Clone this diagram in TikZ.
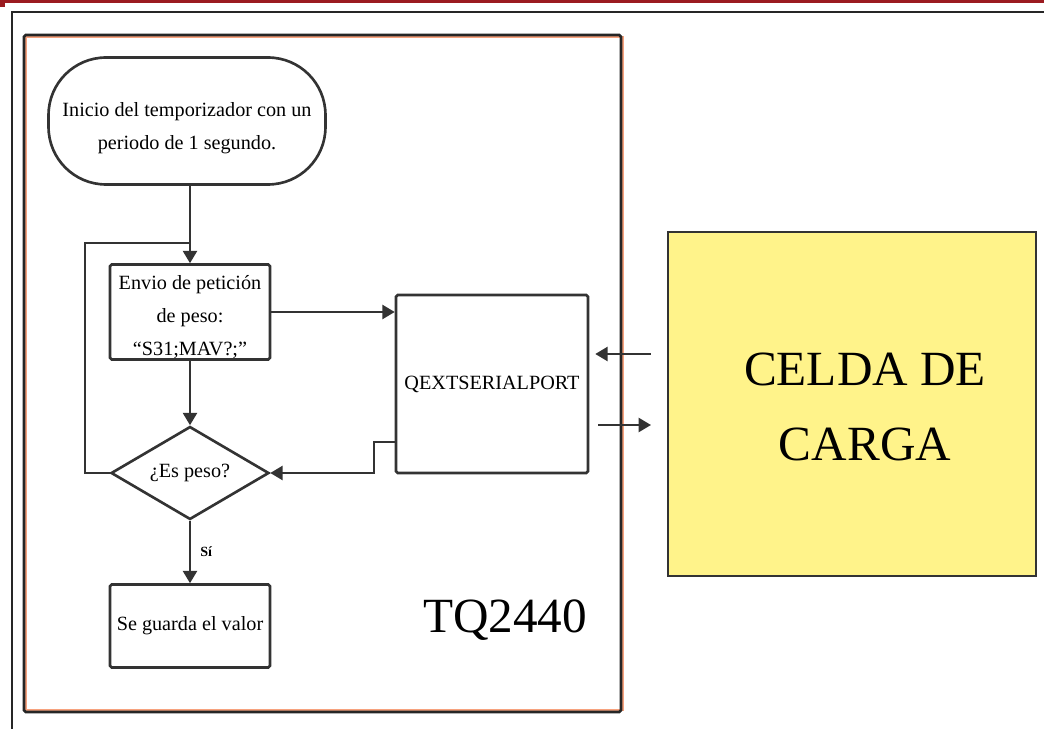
\documentclass[tikz,border=0pt]{standalone}
\usepackage{fontspec}
\setmainfont{Liberation Serif}
\usepackage{xcolor}
\usetikzlibrary{shapes,arrows.meta,positioning,calc}

\definecolor{bandred}{HTML}{9B1B20}
\definecolor{frameorange}{HTML}{F7A27E}
\definecolor{cellyellow}{HTML}{FFF38A}
\definecolor{linegray}{HTML}{333333}

\begin{document}
\begin{tikzpicture}[x=0.02cm,y=-0.02cm,
    line/.style={draw=linegray, line width=1.2pt},
    flow/.style={line, -{Triangle[length=7pt,width=8pt]}},
    block/.style={draw=linegray, line width=1.5pt, rectangle, rounded corners=1pt,
        align=center, inner sep=0pt, font=\fontsize{11.5}{18.8}\selectfont},
    terminal/.style={block, rounded corners=1.15cm, minimum width=5.54cm, minimum height=2.54cm, text height=35pt},
    decision/.style={block, diamond, rounded corners=0pt, aspect=1.7, minimum width=3.16cm, minimum height=1.86cm},
    cell/.style={draw=black!80, line width=1.2pt, fill=cellyellow, minimum width=7.36cm, minimum height=6.88cm},
    bigtext/.style={align=center, inner sep=0pt, font=\fontsize{28}{42.5}\selectfont}]
    \useasboundingbox (0,0) rectangle (1044,729);

    % Frames
    \fill[bandred] (0,0) rectangle (1044,3.5);
    \fill[bandred] (0,0) rectangle (5,7);
    \draw[black!85, line width=1.2pt] (1044,12) -- (12,12) -- (12,729);
    \draw[frameorange, line width=1.4pt] (26,37) rectangle (623,710);
    \draw[black!85, line width=1.5pt, rounded corners=1pt] (24,35) rectangle (621,712);

    % Flow chart
    \begin{scope}
        \node[terminal] (inicio) at (187,121) {Inicio del temporizador con un\\periodo de 1 segundo.};
        \node[block, minimum width=3.2cm, minimum height=1.9cm, text height=51pt] (envio) at (190,312) {Envio de petición\\de peso:\\“S31;MAV?;”};
        \node[decision] (espeso) at (190,473) {¿Es peso?};
        \node[block, minimum width=3.2cm, minimum height=1.66cm] (guarda) at (190,626) {Se guarda el valor};
        \node[block, minimum width=3.84cm, minimum height=3.56cm] (qext) at (492,384) {QEXTSERIALPORT};
        \node[bigtext] (tq) at (505,620) {TQ2440};
        \coordinate (loopcorner) at (85,243);

        \draw[flow] (inicio.south -| envio.north) -- (envio.north);
        \draw[flow] (envio.south) -- (espeso.north);
        \draw[line] (espeso.west) -| (loopcorner) -- (envio.north |- loopcorner);
        \draw[flow] (envio.east) -- (qext.west |- envio.east);
        \draw[flow] ([yshift=0.64cm]qext.south west) -- ++(-21,0) |- (espeso.east);
        \draw[flow] (espeso.south) -- node[right, xshift=2pt, font=\fontsize{8}{9}\selectfont\bfseries] (si) {Sí} (guarda.north);
    \end{scope}

    % Load cell
    \begin{scope}
        \node[cell] (celda) at (852,404) {};
        \node[bigtext] (celdatext) at ([xshift=0.26cm,yshift=-0.06cm]celda.center) {CELDA DE\\CARGA};

        \draw[flow] ($(celda.west |- qext.east)+(-16,-30)$) -- ($(qext.east)+(6,-30)$);
        \draw[flow] ($(qext.east)+(9,41)$) -- ($(celda.west |- qext.east)+(-16,41)$);
    \end{scope}
\end{tikzpicture}
\end{document}
